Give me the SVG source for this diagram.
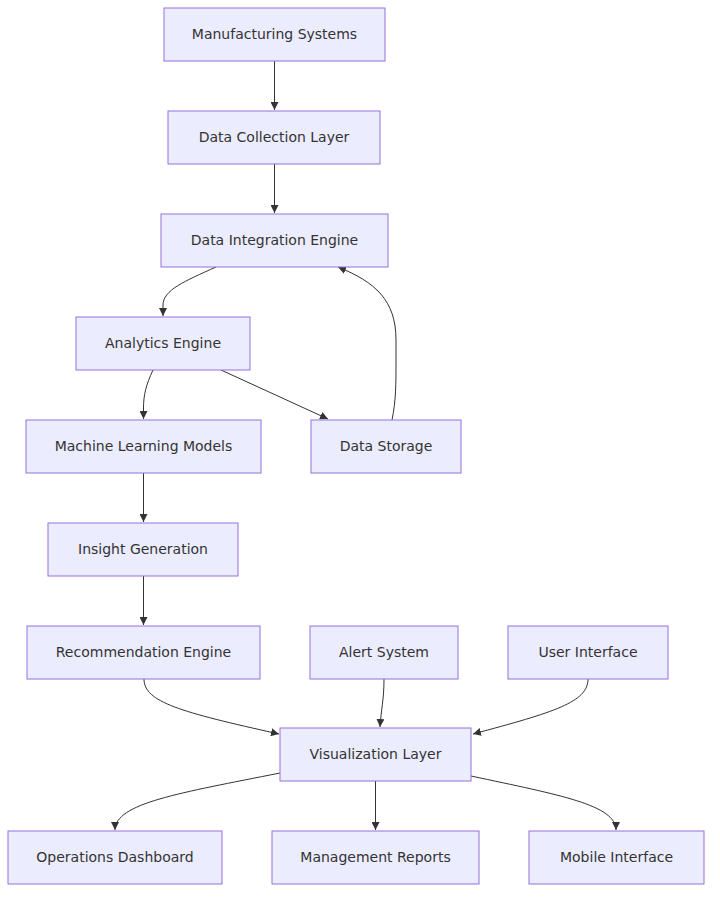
<svg xmlns="http://www.w3.org/2000/svg" width="720" height="902" viewBox="0 0 720 902">
<style>
.node rect{fill:#ECECFF;stroke:#9370DB;stroke-width:1}
.node text{font-family:"DejaVu Sans","Liberation Sans",sans-serif;font-size:14px;fill:#333;text-anchor:middle;dominant-baseline:central}
.edges path{fill:none;stroke:#333;stroke-width:1;marker-end:url(#arr)}
</style>
<defs>
<marker id="arr" viewBox="0 0 10 10" refX="10" refY="5" markerWidth="8" markerHeight="8" markerUnits="userSpaceOnUse" orient="auto">
<path d="M0,0 L10,5 L0,10 z" fill="#333"/>
</marker>
</defs>
<rect width="720" height="902" fill="#fff"/>
<g class="edges">
<path d="M274.5,61 L274.5,110"/>
<path d="M274.5,164 L274.5,213"/>
<path d="M216,267 C185,281 163,290 163,305 L163,316"/>
<path d="M153,370 C146,385 143.5,395 143.5,408 L143.5,419"/>
<path d="M221,370 L328,419"/>
<path d="M392,420 C396,400 396,385 396,360 L396,340 C396,300 375,282 338,267"/>
<path d="M143.5,473 L143.5,522"/>
<path d="M143.5,576 L143.5,625"/>
<path d="M144,679 C144,702 180,712 279,734"/>
<path d="M384,679 C384,700 381,710 380,727"/>
<path d="M588,679 C588,702 555,712 473,734"/>
<path d="M280,773 C180,793 115,803 115,830"/>
<path d="M375.5,781 L375.5,830"/>
<path d="M471,776 C560,795 616,805 616,830"/>
</g>
<g id="n1" class="node"><rect x="164" y="8" width="221" height="53"/><text x="274.5" y="34">Manufacturing Systems</text></g>
<g id="n2" class="node"><rect x="168" y="111" width="212" height="53"/><text x="274" y="137">Data Collection Layer</text></g>
<g id="n3" class="node"><rect x="161" y="214" width="227" height="53"/><text x="274.5" y="240">Data Integration Engine</text></g>
<g id="n4" class="node"><rect x="76" y="317" width="174" height="53"/><text x="163" y="343">Analytics Engine</text></g>
<g id="n5" class="node"><rect x="26" y="420" width="235" height="53"/><text x="143.5" y="446">Machine Learning Models</text></g>
<g id="n6" class="node"><rect x="311" y="420" width="150" height="53"/><text x="386" y="446">Data Storage</text></g>
<g id="n7" class="node"><rect x="48" y="523" width="190" height="53"/><text x="143" y="549">Insight Generation</text></g>
<g id="n8" class="node"><rect x="27" y="626" width="233" height="53"/><text x="143.5" y="652">Recommendation Engine</text></g>
<g id="n9" class="node"><rect x="310" y="626" width="148" height="53"/><text x="384" y="652">Alert System</text></g>
<g id="n10" class="node"><rect x="508" y="626" width="160" height="53"/><text x="588" y="652">User Interface</text></g>
<g id="n11" class="node"><rect x="280" y="728" width="191" height="53"/><text x="375.5" y="754">Visualization Layer</text></g>
<g id="n12" class="node"><rect x="8" y="831" width="214" height="53"/><text x="115" y="857">Operations Dashboard</text></g>
<g id="n13" class="node"><rect x="272" y="831" width="207" height="53"/><text x="375.5" y="857">Management Reports</text></g>
<g id="n14" class="node"><rect x="529" y="831" width="175" height="53"/><text x="616.5" y="857">Mobile Interface</text></g>
</svg>
